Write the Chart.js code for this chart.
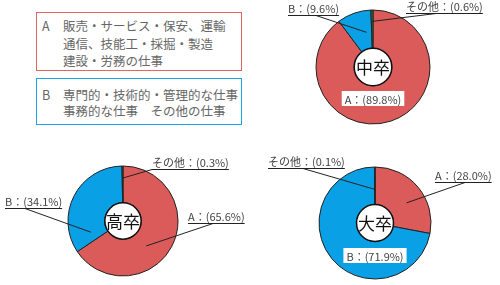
<!DOCTYPE html>
<html>
<head>
<meta charset="utf-8">
<script src="https://cdn.jsdelivr.net/npm/chart.js@4"></script>
<style>
  body { margin: 0; width: 500px; height: 285px; background: #fff; position: relative; overflow: hidden;
         font-family: "Noto Sans CJK JP", sans-serif; }
  .box { position: absolute; left: 36px; width: 204px; box-sizing: content-box; }
  #boxA { top: 12px; height: 57px; border: 1.5px solid #e06666; }
  #boxB { top: 78px; height: 45px; border: 1.5px solid #1aa3e8; }
  .ln { position: absolute; font-size: 12.5px; color: #666; white-space: nowrap; line-height: 1; }
  canvas { position: absolute; }
</style>
</head>
<body>
<div class="box" id="boxA"></div>
<div class="box" id="boxB"></div>
<div id="legendText"></div>

<canvas id="c1" style="left:250px;top:0px" width="250" height="140"></canvas>
<canvas id="c2" style="left:0px;top:140px" width="250" height="145"></canvas>
<canvas id="c3" style="left:250px;top:140px" width="250" height="145"></canvas>

<script>
// data
const categories = ["A", "B", "その他"];
const titles = ["中卒", "高卒", "大卒"];
const chuSotsu = [89.8, 9.6, 0.6];
const kouSotsu = [65.6, 34.1, 0.3];
const daiSotsu = [28.0, 71.9, 0.1];
const colors = ["#db5a5a", "#0aa0e6", "#2a7a36"];

const legendA = ["販売・サービス・保安、運輸", "通信、技能工・採掘・製造", "建設・労務の仕事"];
const legendB = ["専門的・技術的・管理的な仕事", "事務的な仕事　その他の仕事"];

// legend text
const lt = document.querySelector("#legendText");
function addLine(txt, x, y) {
  const s = document.createElement("span");
  s.className = "ln";
  s.textContent = txt;
  s.style.left = x + "px";
  s.style.top = y + "px";
  lt.appendChild(s);
}
addLine("A", 42, 20);
legendA.forEach((t, i) => addLine(t, 63, 20 + i * 17.5));
addLine("B", 42, 89);
legendB.forEach((t, i) => addLine(t, 63, 89 + i * 15.5));

function pct(v) {
  return "(" + v.toFixed(1) + "%)";
}

const calloutPlugin = {
  id: "callout",
  afterDatasetsDraw(chart, args, opts) {
    const ctx = chart.ctx;
    const meta = chart.getDatasetMeta(0);
    const values = chart.data.datasets[0].data;
    const a0 = meta.data[0];
    const cx = a0.x, cy = a0.y, R = a0.outerRadius, r = a0.innerRadius;
    ctx.save();

    // hole
    ctx.beginPath();
    ctx.arc(cx, cy, r, 0, Math.PI * 2);
    ctx.fillStyle = "#fff";
    ctx.fill();
    ctx.lineWidth = 1.5;
    ctx.strokeStyle = "#111";
    ctx.stroke();
    ctx.fillStyle = "#111";
    ctx.font = '17px "Noto Sans CJK JP"';
    ctx.textAlign = "center";
    ctx.textBaseline = "middle";
    ctx.fillText(opts.title, cx, cy + 1);

    ctx.font = '11px "Noto Sans CJK JP"';
    ctx.textBaseline = "alphabetic";
    opts.labels.forEach((l) => {
      const text = chart.data.labels[l.i] + "：" + pct(values[l.i]);
      const w = ctx.measureText(text).width;
      if (l.inside) {
        const ty = cy + l.dy;
        ctx.fillStyle = "#fff";
        ctx.fillRect(cx - w / 2 - 3, ty - 9, w + 6, 15);
        ctx.fillStyle = "#444";
        ctx.textAlign = "center";
        ctx.fillText(text, cx, ty + 4);
        return;
      }
      const arc = meta.data[l.i];
      const ang = arc.startAngle + l.t * (arc.endAngle - arc.startAngle);
      const px = cx + Math.cos(ang) * R * l.rf;
      const py = cy + Math.sin(ang) * R * l.rf;
      ctx.fillStyle = "#444";
      ctx.textAlign = "left";
      ctx.fillText(text, l.x, l.y - 2);
      ctx.strokeStyle = "#222";
      ctx.lineWidth = 1;
      ctx.beginPath();
      ctx.moveTo(l.x, l.y + 0.5);
      ctx.lineTo(l.x + w, l.y + 0.5);
      ctx.moveTo(l.from, l.y + 0.5);
      ctx.lineTo(px, py);
      ctx.stroke();
    });
    ctx.restore();
  }
};

function makeChart(id, values, title, radius, padding, labels) {
  return new Chart(document.querySelector(id), {
    type: "doughnut",
    data: {
      labels: categories,
      datasets: [{
        data: values,
        backgroundColor: colors,
        borderColor: "#222",
        borderWidth: 1
      }]
    },
    options: {
      responsive: false,
      animation: false,
      radius: radius,
      cutout: "33%",
      layout: { padding: padding },
      plugins: {
        legend: { display: false },
        tooltip: { enabled: false },
        callout: { title: title, labels: labels }
      }
    },
    plugins: [calloutPlugin]
  });
}

makeChart("#c1", chuSotsu, titles[0], 57, { left: 0, right: 4, top: 0, bottom: 6 }, [
  { i: 0, inside: true, dy: 33 },
  { i: 1, x: 38, y: 15, from: 66, t: 0.75, rf: 0.62 },
  { i: 2, x: 156, y: 13, from: 186, t: 0.5, rf: 0.8 }
]);

makeChart("#c2", kouSotsu, titles[1], 55, { left: 0, right: 4, top: 17, bottom: 0 }, [
  { i: 0, x: 188, y: 83, from: 213, t: 0.58, rf: 0.62 },
  { i: 1, x: 5, y: 68, from: 25, t: 0.12, rf: 0.62 },
  { i: 2, x: 152, y: 29, from: 152, t: 0.5, rf: 0.78 }
]);

makeChart("#c3", daiSotsu, titles[2], 56, { left: 0, right: 0, top: 21, bottom: 0 }, [
  { i: 0, x: 185, y: 42, from: 215, t: 0.57, rf: 0.67 },
  { i: 1, inside: true, dy: 34 },
  { i: 2, x: 18, y: 28, from: 53, t: 0.5, rf: 0.6 }
]);
</script>
</body>
</html>
